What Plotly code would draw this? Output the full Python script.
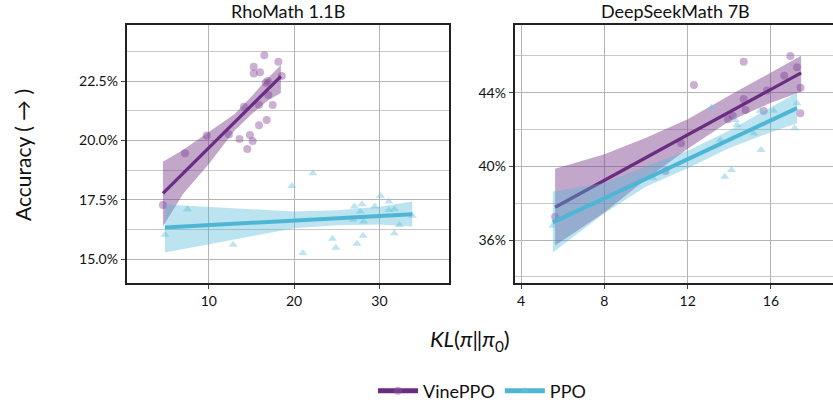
import plotly.graph_objects as go

# ---------------- data ----------------
# RhoMath 1.1B  (x = KL, y = accuracy %)
rho_vine_x = [4.62, 7.21, 9.76, 12.35, 13.6, 14.12, 14.51, 14.82, 15.14, 15.26, 15.26, 16.0, 15.88,
              15.88, 16.51, 16.67, 16.78, 16.98, 16.9, 17.49, 18.15, 18.55]
rho_vine_y = [17.28, 19.46, 20.2, 20.25, 20.06, 21.42, 19.64, 20.23, 19.97, 23.1, 22.82, 22.87, 21.49,
              20.64, 23.59, 22.43, 20.86, 21.91, 22.5, 21.49, 23.31, 22.71]
rho_ppo_x = [4.86, 7.49, 12.86, 19.73, 22.2, 21.02, 24.5, 24.9, 26.9, 27.06, 27.96, 27.76, 28.15, 28.08,
             27.37, 29.45, 30.12, 31.1, 31.1, 31.76, 32.35, 31.76, 33.85]
rho_ppo_y = [16.02, 17.1, 15.6, 18.08, 18.61, 15.25, 15.85, 15.48, 16.65, 17.21, 17.31, 17.0, 16.58, 15.98,
             15.64, 17.21, 17.66, 17.42, 17.07, 17.1, 16.43, 16.09, 16.82]

# fitted lines and confidence bands
rho_vine_fit_x = [4.62, 18.45]
rho_vine_fit_y = [17.77, 22.70]
rho_vine_band_x = [4.62, 7.0, 10.0, 13.0, 15.0, 17.0, 18.45]
rho_vine_band_lo = [16.37, 17.75, 19.0, 20.4, 21.1, 21.7, 22.0]
rho_vine_band_hi = [19.1, 19.6, 20.35, 21.1, 21.85, 22.65, 23.17]

rho_ppo_fit_x = [4.86, 33.85]
rho_ppo_fit_y = [16.33, 16.89]
rho_ppo_band_x = [4.86, 10.0, 15.0, 20.0, 25.0, 30.0, 33.85]
rho_ppo_band_lo = [15.27, 15.6, 15.95, 16.3, 16.42, 16.45, 16.37]
rho_ppo_band_hi = [17.3, 17.2, 17.08, 17.0, 17.05, 17.2, 17.42]

# DeepSeekMath 7B
ds_vine_x = [5.63, 10.93, 11.68, 12.3, 13.94, 14.16, 14.69, 14.69, 14.78, 15.65, 15.81, 16.64, 16.93,
             17.25, 17.42, 17.41]
ds_vine_y = [37.27, 39.75, 41.25, 44.42, 42.56, 42.74, 45.67, 43.66, 43.06, 43.01, 44.11, 44.92, 45.99,
             45.38, 44.27, 42.88]
ds_ppo_x = [5.52, 8.4, 10.34, 13.14, 13.57, 13.78, 14.1, 14.29, 14.37, 15.17, 15.52, 15.49, 16.13,
            17.14, 17.25]
ds_ppo_y = [36.78, 38.2, 39.35, 43.19, 41.43, 39.44, 39.8, 42.52, 42.25, 41.8, 40.89, 43.02, 43.02,
            42.07, 43.42]

ds_vine_fit_x = [5.63, 17.45]
ds_vine_fit_y = [37.78, 45.07]
ds_vine_band_x = [5.63, 8.0, 10.0, 12.0, 14.0, 16.0, 17.45]
ds_vine_band_lo = [35.7, 37.5, 39.3, 40.95, 42.45, 43.45, 44.05]
ds_vine_band_hi = [39.87, 40.65, 41.55, 42.55, 43.85, 45.1, 46.0]

ds_ppo_fit_x = [5.52, 17.25]
ds_ppo_fit_y = [36.96, 43.16]
ds_ppo_band_x = [5.52, 8.0, 10.0, 12.0, 14.0, 16.0, 17.25]
ds_ppo_band_lo = [35.32, 37.45, 38.9, 39.9, 41.0, 41.85, 42.34]
ds_ppo_band_hi = [38.63, 39.1, 40.0, 40.85, 41.95, 43.2, 44.0]

rho_yticks = [15.0, 17.5, 20.0, 22.5]
rho_yticktext = ["15.0%", "17.5%", "20.0%", "22.5%"]
ds_yticks = [36, 40, 44]
ds_yticktext = ["36%", "40%", "44%"]
rho_xticks = [10, 20, 30]
ds_xticks = [4, 8, 12, 16]

# ---------------- styling ----------------
VINE = "#6a2c80"
PPO = "#4eb6d4"
VINE_PT = "rgba(140,80,160,0.45)"
PPO_PT = "rgba(110,195,222,0.45)"
VINE_BAND = "rgba(120,60,140,0.45)"
PPO_BAND = "rgba(80,185,215,0.38)"
FONT = "Lato"
W, H = 833, 410
L_T, L_B = 25, 283
PA_H = L_B - L_T

fig = go.Figure()


def add_group(xa, ya, px, py, fx, fy, bx, blo, bhi, line_col, pt_col, band_col, symbol, name, lw, show):
    fig.add_trace(go.Scatter(x=px, y=py, mode="markers", xaxis=xa, yaxis=ya,
                             marker=dict(color=pt_col, size=8, symbol=symbol, line=dict(width=0)),
                             showlegend=False, hoverinfo="skip"))
    fig.add_trace(go.Scatter(x=list(bx) + list(bx)[::-1], y=list(bhi) + list(blo)[::-1],
                             xaxis=xa, yaxis=ya, fill="toself", fillcolor=band_col,
                             line=dict(width=0), mode="lines", showlegend=False, hoverinfo="skip"))
    fig.add_trace(go.Scatter(x=fx, y=fy, mode="lines", xaxis=xa, yaxis=ya,
                             line=dict(color=line_col, width=lw), showlegend=False, hoverinfo="skip"))
    if show:
        fig.add_trace(go.Scatter(x=[None], y=[None], mode="lines+markers", xaxis=xa, yaxis=ya,
                                 name=name, line=dict(color=line_col, width=5),
                                 marker=dict(color=pt_col, size=8, symbol=symbol)))


add_group("x", "y", rho_vine_x, rho_vine_y, rho_vine_fit_x, rho_vine_fit_y, rho_vine_band_x,
          rho_vine_band_lo, rho_vine_band_hi, VINE, VINE_PT, VINE_BAND, "circle", "VinePPO", 3.2, True)
add_group("x", "y", rho_ppo_x, rho_ppo_y, rho_ppo_fit_x, rho_ppo_fit_y, rho_ppo_band_x,
          rho_ppo_band_lo, rho_ppo_band_hi, PPO, PPO_PT, PPO_BAND, "triangle-up", "PPO", 4, True)
add_group("x2", "y2", ds_vine_x, ds_vine_y, ds_vine_fit_x, ds_vine_fit_y, ds_vine_band_x,
          ds_vine_band_lo, ds_vine_band_hi, VINE, VINE_PT, VINE_BAND, "circle", "VinePPO", 3.2, False)
add_group("x2", "y2", ds_ppo_x, ds_ppo_y, ds_ppo_fit_x, ds_ppo_fit_y, ds_ppo_band_x,
          ds_ppo_band_lo, ds_ppo_band_hi, PPO, PPO_PT, PPO_BAND, "triangle-up", "PPO", 4, False)

GRID = "#b4b4b4"
axis_common = dict(showline=True, linecolor="#222222", linewidth=1.5, mirror=True,
                   showgrid=True, gridcolor=GRID, gridwidth=1.2, zeroline=False,
                   ticks="outside", ticklen=4, tickcolor="#444444",
                   tickfont=dict(family=FONT, size=14, color="#111111"))

fig.update_layout(
    width=W, height=H, plot_bgcolor="white", paper_bgcolor="white",
    margin=dict(l=0, r=0, t=L_T, b=H - L_B, autoexpand=False),
    font=dict(family=FONT, color="#111111"),
    xaxis=dict(domain=[126.5 / W, 448.5 / W], range=[0.35, 38.1], tickvals=rho_xticks,
               anchor="y", **axis_common),
    yaxis=dict(domain=[0, 1], range=[13.99, 24.86], tickvals=rho_yticks, ticktext=rho_yticktext,
               anchor="x", minor=dict(tick0=13.75, dtick=2.5, showgrid=True, gridcolor="#c8c8c8",
                                      gridwidth=1.2, ticks=""), **axis_common),
    xaxis2=dict(domain=[514.5 / W, 1.0], range=[3.68, 18.98], tickvals=ds_xticks,
                anchor="y2", **axis_common),
    yaxis2=dict(domain=[0, 1], range=[33.67, 47.67], tickvals=ds_yticks, ticktext=ds_yticktext,
                anchor="x2", minor=dict(tick0=34, dtick=4, showgrid=True, gridcolor="#c8c8c8",
                                        gridwidth=1.2, ticks=""), **axis_common),
    legend=dict(orientation="h", x=482 / W, xanchor="center", y=(L_B - 391) / PA_H, yanchor="middle",
                font=dict(family=FONT, size=18, color="#111111"), bgcolor="rgba(0,0,0,0)",
                itemwidth=40),
)

title_y = 1 + (L_T - 11) / PA_H
fig.add_annotation(text="RhoMath 1.1B", x=(126.5 + 448.5) / 2 / W, y=title_y, xref="paper", yref="paper",
                   showarrow=False, font=dict(family=FONT, size=18), xanchor="center", yanchor="middle")
fig.add_annotation(text="DeepSeekMath 7B", x=(514.5 + 837) / 2 / W, y=title_y, xref="paper", yref="paper",
                   showarrow=False, font=dict(family=FONT, size=18), xanchor="center", yanchor="middle")
fig.add_annotation(text="Accuracy ( → )", x=22 / W, y=(L_B - 155) / PA_H, xref="paper", yref="paper",
                   textangle=-90, showarrow=False, font=dict(family=FONT, size=21),
                   xanchor="center", yanchor="middle")
fig.add_annotation(text="<i>KL</i>(<i>π</i>‖<i>π</i><sub>0</sub>)", x=470 / W, y=(L_B - 340) / PA_H,
                   xref="paper", yref="paper", showarrow=False, font=dict(family=FONT, size=22),
                   xanchor="center", yanchor="middle")

fig.write_html("out.html", config={"displayModeBar": False},
               post_script="document.body.style.margin='0';document.body.style.overflow='hidden';")
